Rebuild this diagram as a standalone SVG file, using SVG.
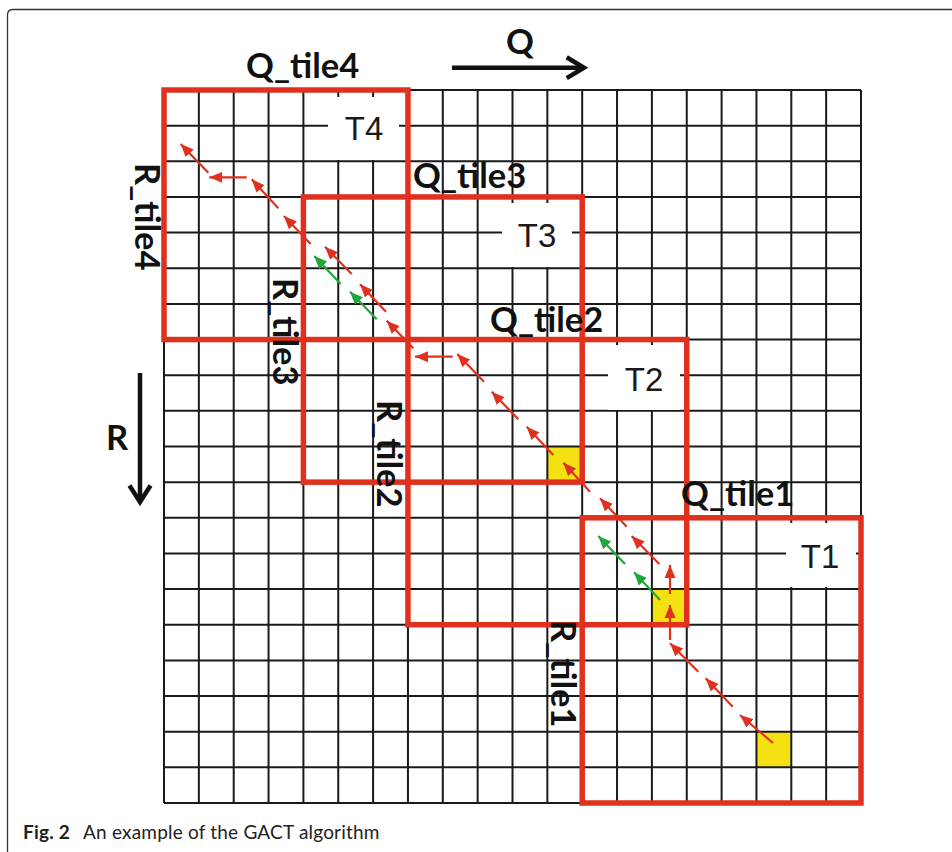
<svg xmlns="http://www.w3.org/2000/svg" width="952" height="852" viewBox="0 0 952 852">
<defs>
<style>
.grid{stroke:#1a1a1a;stroke-width:2;fill:none}
.tile{fill:none;stroke:#e0301e;stroke-width:5.5}
.yel{fill:#f5e012}
.lbl{fill:#fff}
.tt{font-family:"Liberation Sans",Arial,sans-serif;font-size:33px;fill:#1a1a1a;text-anchor:middle}
.bl{font-family:Lato,"Liberation Sans",sans-serif;font-weight:700;font-size:34.5px;fill:#111}
.ra{stroke:#e0301e;stroke-width:2.2;fill:none;marker-end:url(#ar)}
.ga{stroke:#1fa83a;stroke-width:2.2;fill:none;marker-end:url(#ag)}
.ax{stroke:#111;stroke-width:4.5;fill:none}
.cap{font-family:Lato,"Liberation Sans",sans-serif;font-size:19px;fill:#222;letter-spacing:0.2px}
</style>
<marker id="ar" markerUnits="userSpaceOnUse" markerWidth="14" markerHeight="12" refX="13" refY="6" orient="auto"><path d="M0,0.5 L13,6 L0,11.5 z" fill="#e0301e"/></marker>
<marker id="ag" markerUnits="userSpaceOnUse" markerWidth="14" markerHeight="12" refX="13" refY="6" orient="auto"><path d="M0,0.5 L13,6 L0,11.5 z" fill="#1fa83a"/></marker>
</defs>
<rect width="952" height="852" fill="#fff"/>
<path d="M7.5,852 V15 Q7.5,9.5 13,9.5 H952" fill="none" stroke="#333" stroke-width="1.3"/>

<g id="cells">
<rect class="yel" x="547.35" y="446.5" width="34.85" height="35.65"/>
<rect class="yel" x="651.9" y="589.1" width="34.85" height="35.65"/>
<rect class="yel" x="756.45" y="731.7" width="34.85" height="35.65"/>
</g>

<g id="grid">
<path class="grid" d="M164,90V803M198.85,90V803M233.7,90V803M268.55,90V803M303.4,90V803M338.25,90V803M373.1,90V803M407.95,90V803M442.8,90V803M477.65,90V803M512.5,90V803M547.35,90V803M582.2,90V803M617.05,90V803M651.9,90V803M686.75,90V803M721.6,90V803M756.45,90V803M791.3,90V803M826.15,90V803M861,90V803
M164,90H861M164,125.65H861M164,161.3H861M164,196.95H861M164,232.6H861M164,268.25H861M164,303.9H861M164,339.55H861M164,375.2H861M164,410.85H861M164,446.5H861M164,482.15H861M164,517.8H861M164,553.45H861M164,589.1H861M164,624.75H861M164,660.4H861M164,696.05H861M164,731.7H861M164,767.35H861M164,803H861"/>
</g>

<g id="tile4">
<rect class="lbl" x="328" y="97" width="71" height="63"/>
<rect class="tile" x="164" y="90" width="243.95" height="249.55"/>
<text class="tt" x="364" y="140">T4</text>
<text class="bl" x="246" y="78">Q_tile4</text>
<text class="bl" transform="translate(135,163) rotate(90)">R_tile4</text>
</g>

<g id="tile3">
<rect class="lbl" x="502" y="203" width="70" height="64"/>
<rect class="tile" x="303.4" y="196.95" width="278.8" height="285.2"/>
<text class="tt" x="537" y="246.5">T3</text>
<text class="bl" x="413" y="188">Q_tile3</text>
<text class="bl" transform="translate(273,278) rotate(90)">R_tile3</text>
</g>

<g id="tile2">
<rect class="lbl" x="608" y="345" width="72" height="65"/>
<rect class="tile" x="407.95" y="339.55" width="278.8" height="285.2"/>
<text class="tt" x="644" y="390.5">T2</text>
<text class="bl" x="490" y="332">Q_tile2</text>
<text class="bl" transform="translate(377,400) rotate(90)">R_tile2</text>
</g>

<g id="tile1">
<rect class="lbl" x="786" y="523" width="70" height="64"/>
<rect class="tile" x="582.2" y="517.8" width="278.8" height="285.2"/>
<text class="tt" x="820" y="568">T1</text>
<text class="bl" x="681" y="506">Q_tile1</text>
<text class="bl" transform="translate(551,620) rotate(90)">R_tile1</text>
</g>

<g id="axes">
<text class="bl" x="520" y="54" text-anchor="middle">Q</text>
<path class="ax" d="M452,67.7H583"/>
<path class="ax" d="M566.7,57.3L584,67.7L566.7,78.1"/>
<text class="bl" x="117" y="450" text-anchor="middle">R</text>
<path class="ax" d="M140,373V501"/>
<path class="ax" d="M129.5,485.5L140,502L150.5,485.5"/>
</g>

<g id="connectors">
<path class="ra" d="M773,743L740,715"/>
<path class="ra" d="M732.7,706.7L705.7,678.3"/>
<path class="ra" d="M698.3,671.7L670,643.3"/>
<path class="ra" d="M670,640V605"/>
<path class="ra" d="M670,594V565"/>
<path class="ra" d="M659.3,564L631.7,536"/>
<path class="ra" d="M626.7,526.7L600,498.3"/>
<path class="ra" d="M590,491.7L563.3,462.7"/>
<path class="ra" d="M553.3,455L526.7,426.7"/>
<path class="ra" d="M518.3,419.3L491.7,391.7"/>
<path class="ra" d="M484,381.7L457.3,354"/>
<path class="ra" d="M452.7,356.7H415"/>
<path class="ra" d="M413.3,348.3L386.7,320.7"/>
<path class="ra" d="M386,311.7L360,284.3"/>
<path class="ra" d="M351.7,274L325,246.7"/>
<path class="ra" d="M310.7,244L284,216"/>
<path class="ra" d="M278.3,208.3L251.7,179.3"/>
<path class="ra" d="M246.7,177.3H209.3"/>
<path class="ra" d="M208.3,172.7L180.7,144"/>
<path class="ga" d="M660,600L634,572.3"/>
<path class="ga" d="M625,564L598.3,536"/>
<path class="ga" d="M376.7,319.3L350,291.7"/>
<path class="ga" d="M340.7,284L314.3,256"/>
</g>

<text class="cap" x="23" y="839"><tspan font-weight="700">Fig. 2</tspan><tspan x="83">An example of the GACT algorithm</tspan></text>
</svg>
